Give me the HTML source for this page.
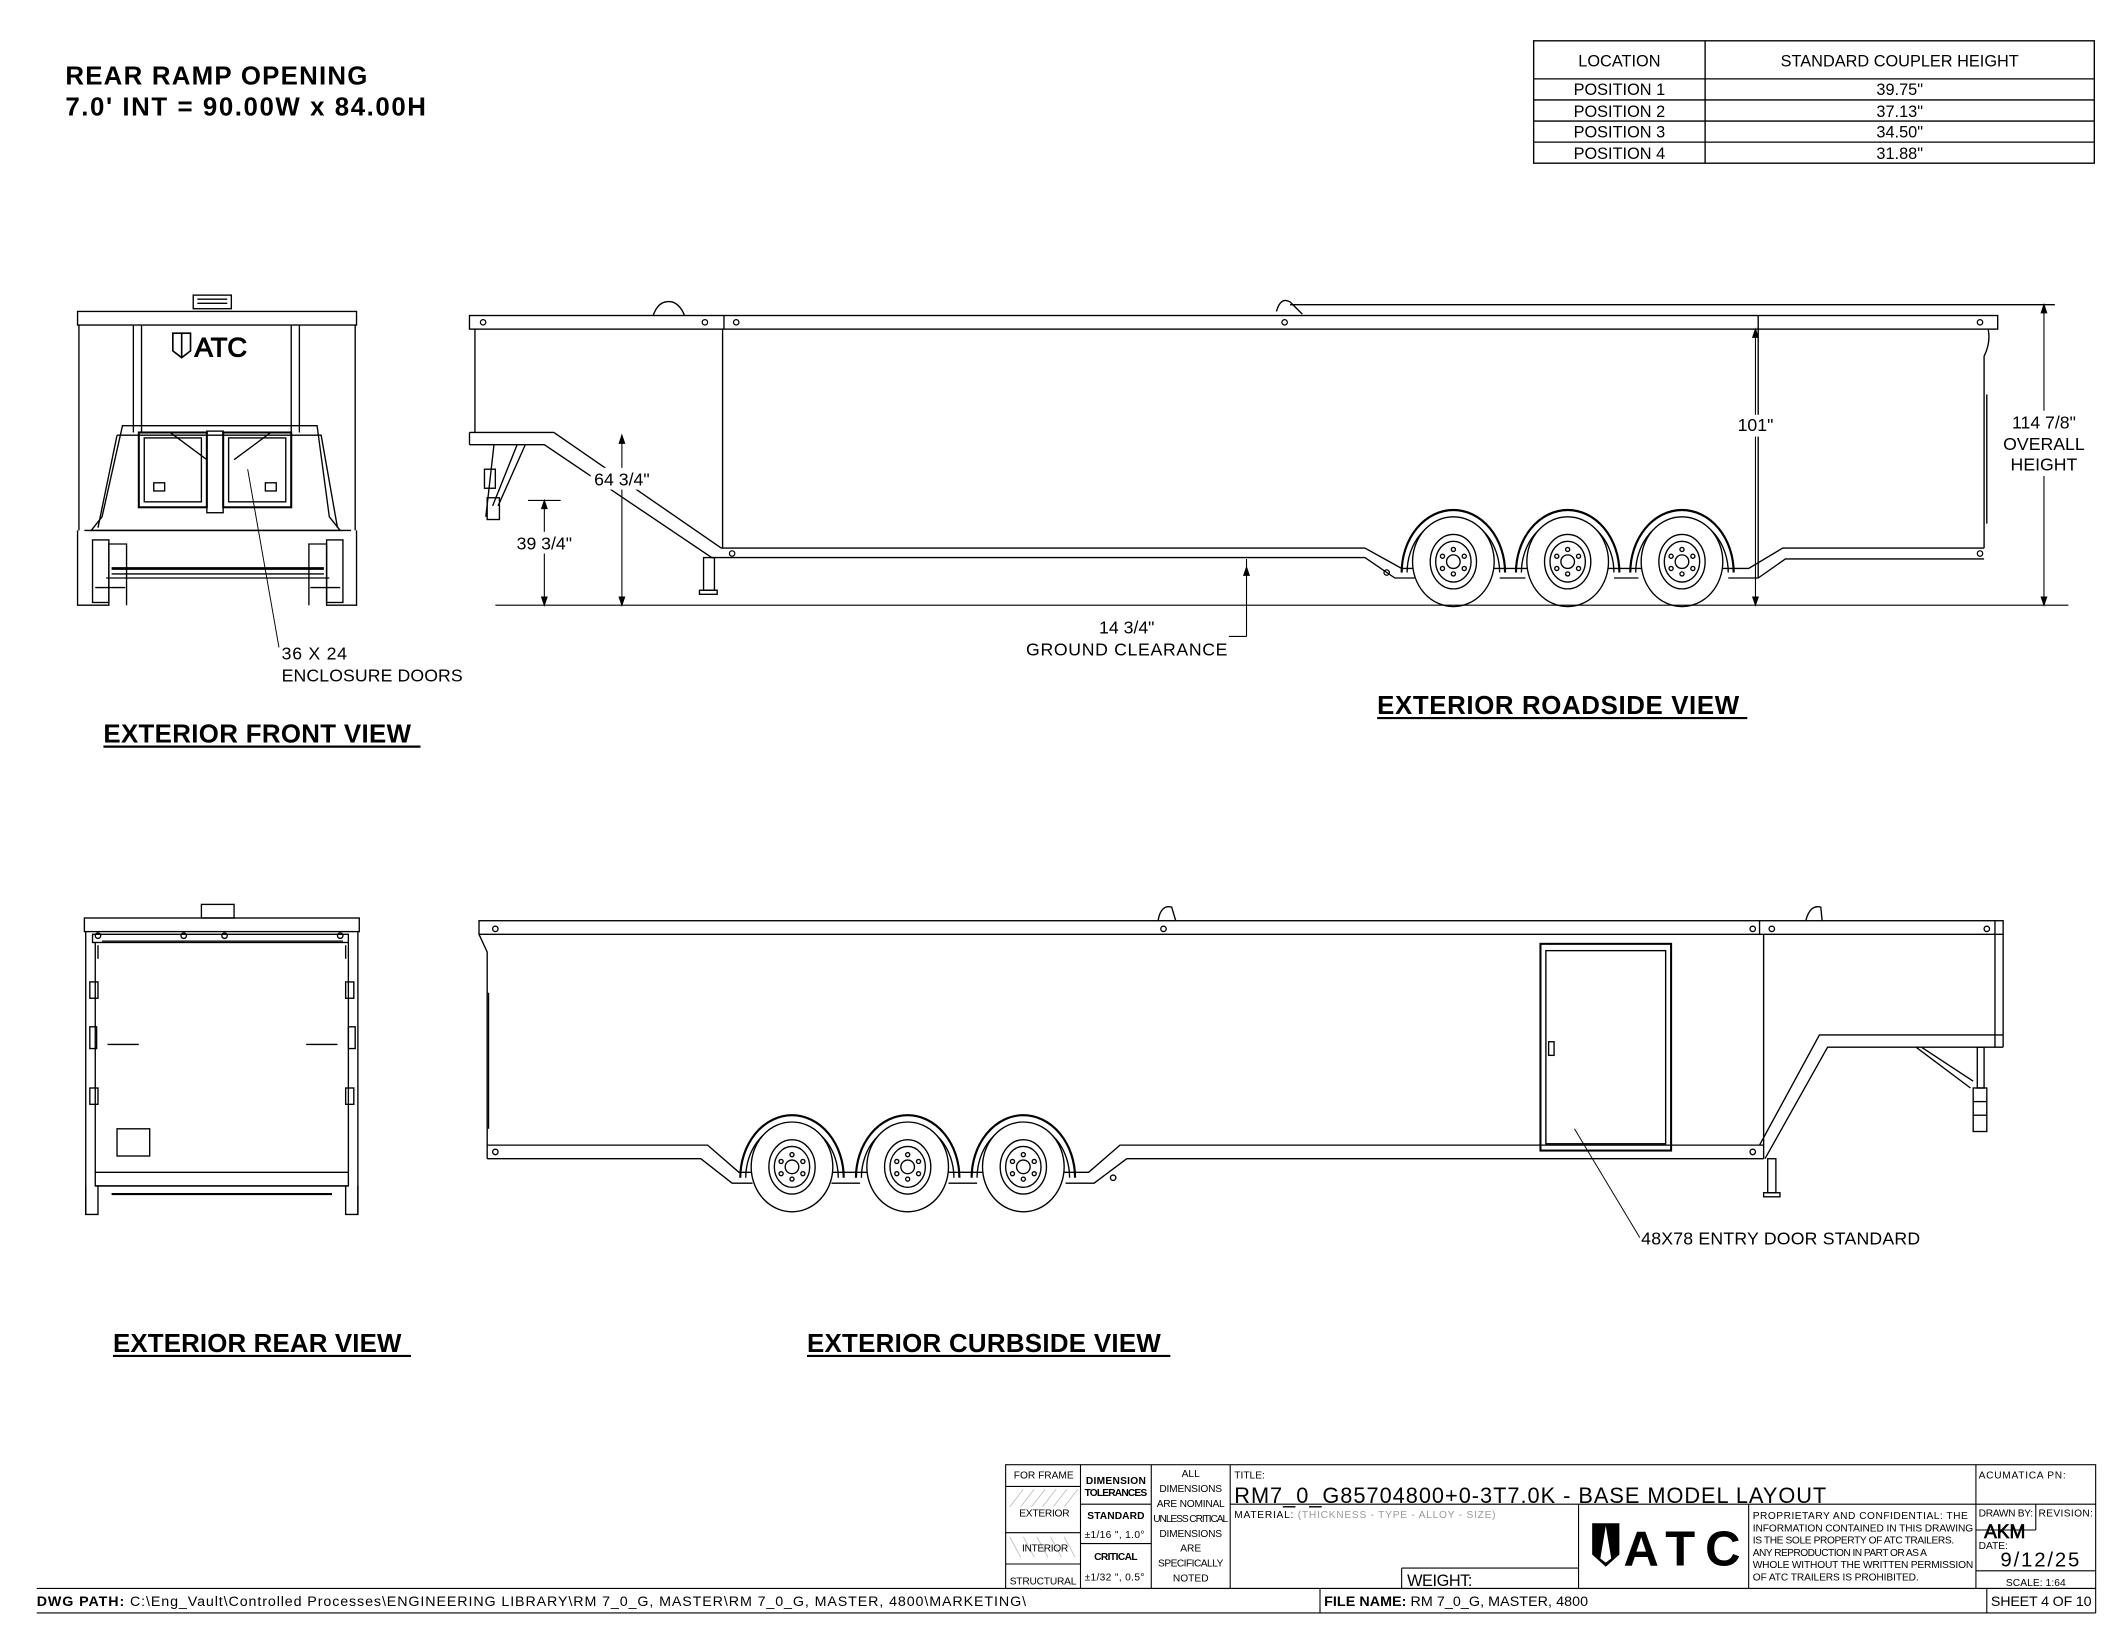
<!DOCTYPE html>
<html><head><meta charset="utf-8"><style>
html,body{margin:0;padding:0;background:#fff;}
svg{display:block;}
text{font-family:"Liberation Sans",sans-serif;fill:#000;}
</style></head><body>
<svg width="2112" height="1632" viewBox="0 0 1552 1200" preserveAspectRatio="none" xmlns="http://www.w3.org/2000/svg">
<defs>
<g id="wh" fill="none" stroke="#000" stroke-width="1">
<path d="M-38 8 A38 46 0 0 1 38 8" stroke-width="1.6"/>
<path d="M-34 8 A34 40 0 0 1 34 8"/>
<ellipse cx="0" cy="0" rx="30" ry="33" fill="#fff"/>
<ellipse cx="0" cy="0" rx="17" ry="20"/>
<ellipse cx="0" cy="0" rx="13" ry="15"/>
<circle cx="0" cy="0" r="5"/>
<circle cx="0" cy="-9" r="1.5"/><circle cx="0" cy="9" r="1.5"/><circle cx="-8" cy="-4" r="1.5"/><circle cx="8" cy="-4" r="1.5"/><circle cx="-8" cy="5" r="1.5"/><circle cx="8" cy="5" r="1.5"/>
</g>
</defs>
<rect width="1552" height="1200" fill="#fff"/>

<text x="48" y="62" font-size="19" font-weight="bold" textLength="222">REAR RAMP OPENING</text>
<text x="48" y="85" font-size="19" font-weight="bold" textLength="265">7.0' INT = 90.00W x 84.00H</text>

<g stroke="#000" fill="none" stroke-width="1">
<rect x="1127" y="30" width="412" height="90"/>
<line x1="1253" y1="30" x2="1253" y2="120"/>
<line x1="1127" y1="58" x2="1539" y2="58"/>
<line x1="1127" y1="73.5" x2="1539" y2="73.5"/>
<line x1="1127" y1="89" x2="1539" y2="89"/>
<line x1="1127" y1="104.5" x2="1539" y2="104.5"/>
</g>
<g font-size="12" text-anchor="middle">
<text x="1190" y="49">LOCATION</text><text x="1396" y="49">STANDARD COUPLER HEIGHT</text>
<text x="1190" y="70">POSITION 1</text><text x="1396" y="70">39.75"</text>
<text x="1190" y="86">POSITION 2</text><text x="1396" y="86">37.13"</text>
<text x="1190" y="101">POSITION 3</text><text x="1396" y="101">34.50"</text>
<text x="1190" y="117">POSITION 4</text><text x="1396" y="117">31.88"</text>
</g>

<!-- FRONT VIEW -->
<g stroke="#000" fill="none" stroke-width="1">
<rect x="142" y="217" width="28" height="10" fill="#fff"/>
<line x1="145" y1="220" x2="167" y2="220"/><line x1="145" y1="223" x2="167" y2="223"/>
<rect x="57" y="229" width="205" height="10"/>
<line x1="58" y1="239" x2="58" y2="390"/><line x1="261" y1="239" x2="261" y2="390"/>
<line x1="98" y1="239" x2="98" y2="318"/><line x1="104" y1="239" x2="104" y2="318"/>
<line x1="214" y1="239" x2="214" y2="318"/><line x1="220" y1="239" x2="220" y2="318"/>
<path d="M90 313 L233 313 L242 380 L250 390 L67 390 L75 380 Z"/>
<path d="M86 320 L236 320 L248 388"/><path d="M86 320 L72 388"/>
<rect x="102" y="318" width="50" height="55" stroke-width="1.5"/>
<rect x="106" y="322" width="42" height="47"/>
<rect x="164" y="318" width="50" height="55" stroke-width="1.5"/>
<rect x="168" y="322" width="42" height="47"/>
<path d="M125 318 L152 338 M199 318 L172 338"/>
<rect x="152" y="317" width="12" height="60"/>
<rect x="113" y="355" width="8" height="6"/><rect x="195" y="355" width="8" height="6"/>
<line x1="62" y1="390" x2="258" y2="390"/>
<path d="M57 390 L57 445 L80 445 L80 400 L93 400 L93 445"/>
<path d="M262 390 L262 445 L240 445 L240 400 L227 400 L227 445"/>
<rect x="68" y="397" width="12" height="46"/><rect x="240" y="397" width="12" height="46"/>
<line x1="82" y1="418" x2="238" y2="418" stroke-width="2"/>
<line x1="82" y1="422" x2="238" y2="422"/>
<line x1="78" y1="425" x2="242" y2="425"/>
<line x1="70" y1="432" x2="92" y2="432"/><line x1="228" y1="432" x2="250" y2="432"/>
</g>
<g fill="none" stroke="#000" stroke-width="1.2">
<path d="M127 245 L140 245 L140 258 L133.5 263 L127 258 Z"/><line x1="133.5" y1="245" x2="133.5" y2="263"/>
</g>
<text x="143" y="262" font-size="20" fill="none" stroke="#000" stroke-width="0.8">ATC</text>
<line x1="182" y1="345" x2="205" y2="476" stroke="#000" stroke-width="0.7"/>
<text x="207" y="485" font-size="13" textLength="48">36 X 24</text>
<text x="207" y="501" font-size="13" textLength="133">ENCLOSURE DOORS</text>
<text x="76" y="546" font-size="19" font-weight="bold" textLength="226">EXTERIOR FRONT VIEW</text>
<line x1="76" y1="549" x2="309" y2="549" stroke="#000" stroke-width="1.6"/>

<!-- ROADSIDE VIEW -->
<g stroke="#000" fill="none" stroke-width="1">
<path d="M480 232 Q484 220 494 222 Q500 224 503 232"/>
<path d="M938 229 Q941 218 948 222 L957 231"/>
<line x1="948" y1="224" x2="1510" y2="224"/>
<rect x="345" y="232" width="1123" height="10"/>
<line x1="532" y1="232" x2="532" y2="242"/>
<line x1="1292" y1="232" x2="1292" y2="242"/>
<line x1="349" y1="242" x2="349" y2="318"/>
<path d="M345 318 L407 318 L530 403 L1003 403 L1030 418 L1285 418 L1310 403 L1458 403"/>
<path d="M345 327 L400 327 L523 410 L1003 410 L1025 425 L1041 425"/>
<path d="M1102 425 L1121 425 M1186 425 L1204 425 M1270 425 L1292 425 L1312 411 L1458 411"/>
<line x1="345" y1="318" x2="345" y2="327"/>
<line x1="531" y1="242" x2="531" y2="403"/>
<path d="M1461 242 Q1463 252 1458 262 L1458 403"/>
<line x1="1292" y1="242" x2="1292" y2="425"/>
<path d="M363 327 L357 380 M380 327 L362 372 M386 327 L366 372"/>
<rect x="356" y="345" width="8" height="14"/>
<rect x="358" y="366" width="9" height="16"/>
<rect x="517" y="410" width="8" height="24"/><rect x="514" y="434" width="13" height="3"/>
<line x1="1460" y1="290" x2="1460" y2="385"/>
</g>
<g fill="none" stroke="#000" stroke-width="0.9">
<circle cx="355" cy="237" r="2"/><circle cx="518" cy="237" r="2"/><circle cx="541" cy="237" r="2"/><circle cx="944" cy="237" r="2"/><circle cx="1455" cy="237" r="2"/>
<circle cx="538" cy="407" r="2"/><circle cx="1019" cy="421" r="2"/><circle cx="1455" cy="407" r="2"/>
</g>
<use href="#wh" x="1068" y="413"/>
<use href="#wh" x="1152" y="413"/>
<use href="#wh" x="1236" y="413"/>
<g stroke="#000" stroke-width="0.8" fill="#000">
<line x1="364" y1="445" x2="1520" y2="445"/>
<line x1="457" y1="320" x2="457" y2="445"/><path d="M455 326 L457 320 L459 326Z"/><path d="M455 439 L457 445 L459 439Z"/>
<line x1="400" y1="368" x2="400" y2="445"/><line x1="388" y1="368" x2="412" y2="368"/><path d="M398 374 L400 368 L402 374Z"/><path d="M398 439 L400 445 L402 439Z"/>
<line x1="1290" y1="242" x2="1290" y2="445"/><path d="M1288 248 L1290 242 L1292 248Z"/><path d="M1288 439 L1290 445 L1292 439Z"/>
<line x1="1502" y1="224" x2="1502" y2="445"/><path d="M1500 230 L1502 224 L1504 230Z"/><path d="M1500 439 L1502 445 L1504 439Z"/>
<line x1="916" y1="411" x2="916" y2="468"/><line x1="903" y1="468" x2="916" y2="468"/><path d="M914 423 L916 417 L918 423Z"/>
</g>
<g font-size="13" text-anchor="middle">
<rect x="434" y="344" width="46" height="16" fill="#fff"/>
<text x="457" y="357">64 3/4"</text>
<rect x="376" y="391" width="48" height="16" fill="#fff"/>
<text x="400" y="404">39 3/4"</text>
<rect x="1274" y="305" width="32" height="16" fill="#fff"/>
<text x="1290" y="317">101"</text>
<rect x="1474" y="302" width="58" height="48" fill="#fff"/>
<text x="1502" y="315">114 7/8"</text>
<text x="1502" y="331">OVERALL</text>
<text x="1502" y="346">HEIGHT</text>
<text x="828" y="466">14 3/4"</text>
<text x="828" y="482" textLength="148">GROUND CLEARANCE</text>
</g>
<text x="1012" y="525" font-size="19" font-weight="bold" textLength="266">EXTERIOR ROADSIDE VIEW</text>
<line x1="1012" y1="528" x2="1284" y2="528" stroke="#000" stroke-width="1.6"/>

<!-- REAR VIEW -->
<g stroke="#000" fill="none" stroke-width="1">
<rect x="148" y="665" width="24" height="10"/>
<rect x="62" y="675" width="202" height="10"/>
<rect x="68" y="687" width="188" height="6"/>
<line x1="63" y1="685" x2="63" y2="893"/><line x1="263" y1="685" x2="263" y2="893"/>
<line x1="70" y1="693" x2="70" y2="862"/><line x1="256" y1="693" x2="256" y2="862"/>
<line x1="75" y1="692" x2="252" y2="692"/>
<rect x="86" y="830" width="24" height="20"/>
<rect x="70" y="862" width="186" height="10"/>
<line x1="70" y1="872" x2="256" y2="872"/>
<path d="M63 872 L63 893 L72 893 L72 872 M263 872 L263 893 L254 893 L254 872"/>
<line x1="82" y1="878" x2="244" y2="878" stroke-width="1.5"/>
<line x1="79" y1="768" x2="102" y2="768"/><line x1="225" y1="768" x2="248" y2="768"/>
<rect x="66" y="755" width="5" height="16"/><rect x="256" y="755" width="5" height="16"/>
<rect x="66" y="722" width="6" height="12"/><rect x="254" y="722" width="6" height="12"/>
<rect x="66" y="800" width="6" height="12"/><rect x="254" y="800" width="6" height="12"/>
<circle cx="72" cy="688" r="2"/><circle cx="135" cy="688" r="2"/><circle cx="165" cy="688" r="2"/><circle cx="250" cy="688" r="2"/>
<line x1="72" y1="695" x2="72" y2="705"/><line x1="254" y1="695" x2="254" y2="705"/>
</g>
<text x="83" y="994" font-size="19" font-weight="bold" textLength="212">EXTERIOR REAR VIEW</text>
<line x1="83" y1="997" x2="302" y2="997" stroke="#000" stroke-width="1.6"/>

<!-- CURBSIDE VIEW -->
<g stroke="#000" fill="none" stroke-width="1">
<path d="M851 677 Q853 665 861 667 L864 677"/>
<path d="M1327 677 Q1330 665 1338 667 L1339 677"/>
<rect x="352" y="677" width="1120" height="10"/>
<line x1="1293" y1="677" x2="1293" y2="687"/>
<line x1="1466" y1="677" x2="1466" y2="770"/>
<line x1="1472" y1="687" x2="1472" y2="770"/>
<path d="M352 687 L358 700 L358 842"/>
<path d="M358 842 L520 842 L543 862 L800 862 L823 842 L1296 842"/>
<path d="M358 852 L515 852 L538 870 L553 870 M611 870 L632 870 M697 870 L718 870 M783 870 L804 870 L828 852 L1296 852"/>
<line x1="358" y1="842" x2="358" y2="852"/>
<line x1="1296" y1="687" x2="1296" y2="852"/>
<path d="M1293 842 L1337 761 L1472 761"/><path d="M1297 852 L1343 770 L1472 770"/>
<path d="M1408 770 L1448 800 M1412 770 L1450 795"/>
<rect x="1299" y="852" width="6" height="25"/><rect x="1296" y="877" width="12" height="3"/>
<rect x="1453" y="770" width="5" height="30"/>
<rect x="1450" y="800" width="10" height="32"/>
<line x1="1450" y1="810" x2="1460" y2="810"/><line x1="1450" y1="820" x2="1460" y2="820"/>
<rect x="1132" y="694" width="96" height="152" stroke-width="1.5"/>
<rect x="1136" y="699" width="88" height="142"/>
<rect x="1138" y="766" width="4" height="10"/>
<line x1="359" y1="730" x2="359" y2="830"/>
<circle cx="364" cy="683" r="2"/><circle cx="855" cy="683" r="2"/><circle cx="1288" cy="683" r="2"/><circle cx="1302" cy="683" r="2"/><circle cx="1460" cy="683" r="2"/>
<circle cx="364" cy="847" r="2"/><circle cx="818" cy="866" r="2"/><circle cx="1288" cy="847" r="2"/>
</g>
<use href="#wh" x="582" y="858"/>
<use href="#wh" x="667" y="858"/>
<use href="#wh" x="752" y="858"/>
<line x1="1157" y1="830" x2="1205" y2="910" stroke="#000" stroke-width="0.7"/>
<text x="1206" y="915" font-size="13" textLength="205">48X78 ENTRY DOOR STANDARD</text>
<text x="593" y="994" font-size="19" font-weight="bold" textLength="260">EXTERIOR CURBSIDE VIEW</text>
<line x1="593" y1="997" x2="860" y2="997" stroke="#000" stroke-width="1.6"/>

<!-- TITLE BLOCK -->
<g stroke="#000" fill="none" stroke-width="0.8">
<rect x="739" y="1077" width="801" height="91"/>
<line x1="27" y1="1168" x2="1540" y2="1168"/>
<line x1="27" y1="1186" x2="1540" y2="1186"/>
<line x1="794" y1="1077" x2="794" y2="1168"/>
<line x1="846" y1="1077" x2="846" y2="1168"/>
<line x1="904" y1="1077" x2="904" y2="1168"/>
<line x1="739" y1="1093" x2="794" y2="1093"/>
<line x1="739" y1="1127" x2="794" y2="1127"/>
<line x1="739" y1="1150" x2="794" y2="1150"/>
<line x1="794" y1="1106" x2="846" y2="1106"/>
<line x1="794" y1="1135" x2="846" y2="1135"/>
<line x1="904" y1="1106" x2="1452" y2="1106"/>
<line x1="1452" y1="1077" x2="1452" y2="1168"/>
<line x1="1452" y1="1106" x2="1540" y2="1106"/>
<line x1="1452" y1="1125" x2="1496" y2="1125"/>
<line x1="1496" y1="1106" x2="1496" y2="1125"/>
<line x1="1452" y1="1155" x2="1540" y2="1155"/>
<line x1="1160" y1="1106" x2="1160" y2="1168"/>
<line x1="1285" y1="1106" x2="1285" y2="1168"/>
<line x1="1030" y1="1153" x2="1160" y2="1153"/>
<line x1="1030" y1="1153" x2="1030" y2="1168"/>
<line x1="970" y1="1168" x2="970" y2="1186"/>
<line x1="1460" y1="1168" x2="1460" y2="1186"/>
<line x1="1540" y1="1168" x2="1540" y2="1186"/>
</g>
<g stroke="#bbb" stroke-width="0.6">
<path d="M742 1108 L752 1095 M750 1108 L760 1095 M758 1108 L768 1095 M766 1108 L776 1095 M774 1108 L784 1095 M782 1108 L792 1095"/>
<path d="M742 1130 L750 1145 M752 1130 L760 1145 M762 1130 L770 1145 M772 1130 L780 1145 M782 1130 L790 1145"/>
</g>
<g font-size="7.5">
<text x="745" y="1087" textLength="44">FOR FRAME</text>
<text x="749" y="1115" textLength="37">EXTERIOR</text>
<text x="751" y="1141" textLength="34">INTERIOR</text>
<text x="742" y="1165" textLength="49">STRUCTURAL</text>
<text x="798" y="1091" font-weight="bold" textLength="44">DIMENSION</text>
<text x="797" y="1100" font-weight="bold" textLength="46">TOLERANCES</text>
<text x="799" y="1117" font-weight="bold" textLength="42">STANDARD</text>
<text x="797" y="1131" textLength="44">±1/16 ", 1.0°</text>
<text x="804" y="1147" font-weight="bold" textLength="32">CRITICAL</text>
<text x="797" y="1162" textLength="44">±1/32 ", 0.5°</text>
<g text-anchor="middle"><text x="875" y="1086">ALL</text><text x="875" y="1097" textLength="46">DIMENSIONS</text><text x="875" y="1108" textLength="50">ARE NOMINAL</text><text x="875" y="1119" textLength="55">UNLESS CRITICAL</text><text x="875" y="1130" textLength="46">DIMENSIONS</text><text x="875" y="1141">ARE</text><text x="875" y="1152" textLength="48">SPECIFICALLY</text><text x="875" y="1163">NOTED</text></g>
<text x="907" y="1087">TITLE:</text>
<text x="907" y="1116" textLength="192">MATERIAL: <tspan fill="#999">(THICKNESS - TYPE - ALLOY - SIZE)</tspan></text>
<text x="1454" y="1087" textLength="64">ACUMATICA PN:</text>
<text x="1454" y="1115" textLength="40">DRAWN BY:</text><text x="1498" y="1115" textLength="40">REVISION:</text>
<text x="1454" y="1139">DATE:</text>
<text x="1474" y="1166" textLength="44">SCALE: 1:64</text>
<text x="1288" y="1117" textLength="158">PROPRIETARY AND CONFIDENTIAL: THE</text>
<text x="1288" y="1126" textLength="162">INFORMATION CONTAINED IN THIS DRAWING</text>
<text x="1288" y="1135" textLength="148">IS THE SOLE PROPERTY OF ATC TRAILERS.</text>
<text x="1288" y="1144" textLength="128">ANY REPRODUCTION IN PART OR AS A</text>
<text x="1288" y="1153" textLength="162">WHOLE WITHOUT THE WRITTEN PERMISSION</text>
<text x="1288" y="1162" textLength="122">OF ATC TRAILERS IS PROHIBITED.</text>
</g>
<text x="907" y="1105" font-size="16" textLength="435">RM7_0_G85704800+0-3T7.0K - BASE MODEL LAYOUT</text>
<text x="1034" y="1166" font-size="12" textLength="48">WEIGHT:</text>
<text x="1458" y="1131" font-size="14" fill="none" stroke="#000" stroke-width="0.5">AKM</text>
<text x="1470" y="1152" font-size="15" textLength="58">9/12/25</text>
<path d="M1170 1120 L1190 1120 L1190 1143 L1180 1152 L1170 1143 Z" fill="#000"/>
<path d="M1180 1122 L1176 1146 L1180 1149 L1184 1146 Z" fill="#fff"/>
<text x="1193" y="1151" font-size="36" font-weight="bold" textLength="86">ATC</text>
<text x="27" y="1181" font-size="10.5" textLength="727"><tspan font-weight="bold">DWG PATH:</tspan> C:\Eng_Vault\Controlled Processes\ENGINEERING LIBRARY\RM 7_0_G, MASTER\RM 7_0_G, MASTER, 4800\MARKETING\</text>
<text x="973" y="1181" font-size="10.5" textLength="194"><tspan font-weight="bold">FILE NAME:</tspan> RM 7_0_G, MASTER, 4800</text>
<text x="1463" y="1181" font-size="10.5" textLength="74">SHEET 4 OF 10</text>
</svg>
</body></html>
